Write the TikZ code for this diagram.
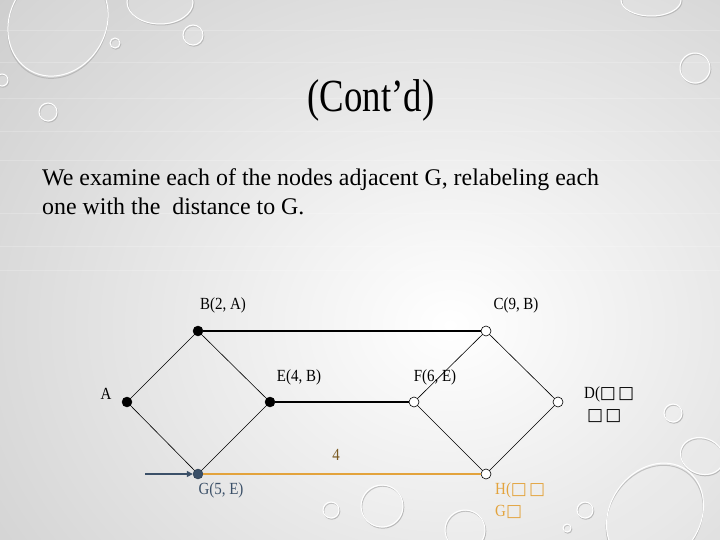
\documentclass[tikz,border=0pt]{standalone}
\usepackage{fontspec}
\setmainfont{Liberation Serif}
\newfontfamily\bodyfont{Liberation Serif}
\newfontfamily\narrowfont[FakeStretch=0.88]{Liberation Serif}
\newfontfamily\titlefont[FakeStretch=0.8]{Liberation Serif}
\newfontfamily\boxfont{DejaVu Sans}
\newcommand{\bx}{{\boxfont\fontsize{17}{19}\selectfont □}}
\usetikzlibrary{arrows.meta}
\definecolor{bgedge}{HTML}{C6C6C6}
\definecolor{gblue}{HTML}{3B5068}
\definecolor{hor}{HTML}{E3A33C}
\definecolor{fourbrown}{HTML}{7A5A22}
\tikzset{
  blacknode/.style={circle,fill=black,draw=black,inner sep=0pt,minimum size=10pt},
  whitenode/.style={circle,fill=white,draw=black,line width=0.6pt,inner sep=0pt,minimum size=10pt},
  gnode/.style={circle,fill=gblue,draw=gblue!70!black,inner sep=0pt,minimum size=10pt},
  thinedge/.style={line width=0.6pt,black},
  thickedge/.style={line width=1.2pt,black},
  lbl/.style={font=\narrowfont\fontsize{17}{19}\selectfont,inner sep=0pt},
  dropshadow/.style={draw=gray!55,line width=1pt},
  droprim/.style={draw=white,line width=1pt,fill=white,fill opacity=0.12},
}
\begin{document}
\begin{tikzpicture}[x=1pt,y=-1pt]
\useasboundingbox (0,0) rectangle (720,540);
% background
\shade[inner color=white,outer color=bgedge] (-250,-250) rectangle (1150,900);
\foreach \yy in {30,62,98,131,160,213,246,270}
  \draw[white,opacity=0.2,line width=0.6pt] (0,\yy) -- (720,\yy);
% drops
\begin{scope}
\clip (0,0) rectangle (720,540);
\foreach \cx/\cy/\r in {193/35/10, 115/43/5, 48/112/9, 2/80/6, 695/68/15, 673/413/9, 331/510/8, 382/506/21, 465/530/20, 585/510/8, 567/528/4}{
  \draw[dropshadow] (\cx+0.8,\cy+1.2) circle (\r);
  \draw[droprim] (\cx,\cy) circle (\r);
}
\draw[dropshadow,rotate around={-30:(58,22)}] (59,24) ellipse (48 and 56);
\draw[droprim,rotate around={-30:(58,22)}] (58,22) ellipse (48 and 56);
\draw[dropshadow] (161,3) ellipse (33 and 22);
\draw[droprim] (160,2) ellipse (33 and 22);
\draw[dropshadow] (652,1) ellipse (30 and 16);
\draw[droprim] (651,0) ellipse (30 and 16);
\draw[dropshadow,rotate around={-20:(702,456)}] (703,457) ellipse (22 and 18);
\draw[droprim,rotate around={-20:(702,456)}] (702,456) ellipse (22 and 18);
\draw[dropshadow,rotate around={-35:(655,515)}] (656,517) ellipse (45 and 55);
\draw[droprim,rotate around={-35:(655,515)}] (655,515) ellipse (45 and 55);
\end{scope}
% title and text
\node[font=\titlefont\fontsize{46}{50}\selectfont,inner sep=0pt] (title) at (371,100) {(Cont’d)};
\node[font=\bodyfont\fontsize{23.9}{29.5}\selectfont,anchor=north west,align=left,inner sep=0pt] (body) at (42,168)
  {We examine each of the nodes adjacent G, relabeling each\\one with the\ \ distance to G.};
% graph nodes
\node[blacknode] (A) at (127,402) {};
\node[blacknode] (B) at (198,331) {};
\node[blacknode] (E) at (270,402) {};
\node[gnode] (G) at (198,474) {};
\node[whitenode] (C) at (486,331) {};
\node[whitenode] (F) at (414,402) {};
\node[whitenode] (D) at (558,402) {};
\node[whitenode] (H) at (486,474) {};
% edges
\draw[thinedge] (A) -- (B);
\draw[thinedge] (A) -- (G);
\draw[thinedge] (B) -- (E);
\draw[thinedge] (E) -- (G);
\draw[thinedge] (C) -- (F);
\draw[thinedge] (C) -- (D);
\draw[thinedge] (F) -- (H);
\draw[thinedge] (D) -- (H);
\draw[thickedge] (B) -- (C);
\draw[thickedge] (E) -- (F);
\draw[hor,line width=1.2pt] (G) -- (H);
% labels
\node[lbl] (lB) at (223,305) {B(2, A)};
\node[lbl] (lC) at (516,305) {C(9, B)};
\node[lbl] (lE) at (299,377) {E(4, B)};
\node[lbl] (lF) at (435,377) {F(6, E)};
\node[lbl] (lA) at (106,394) {A};
\node[lbl,anchor=west] (lD1) at (584,394) {D(\bx\kern2pt\bx};
\node[lbl,anchor=west] (lD2) at (587,416) {\bx\kern2pt\bx};
\node[lbl,text=fourbrown] (l4) at (336,455) {4};
\node[lbl,text=gblue] (lG) at (221,490) {G(5, E)};
\node[lbl,text=hor,anchor=west] (lH1) at (495,490) {H(\bx\kern2pt\bx};
\node[lbl,text=hor,anchor=west] (lH2) at (495,512) {G\bx};
% arrow
\coordinate (arrS) at (145,474);
\draw[gblue,line width=2.2pt,-{Triangle[length=6pt,width=6pt]}] (arrS) -- (G.west);
\end{tikzpicture}
\end{document}
